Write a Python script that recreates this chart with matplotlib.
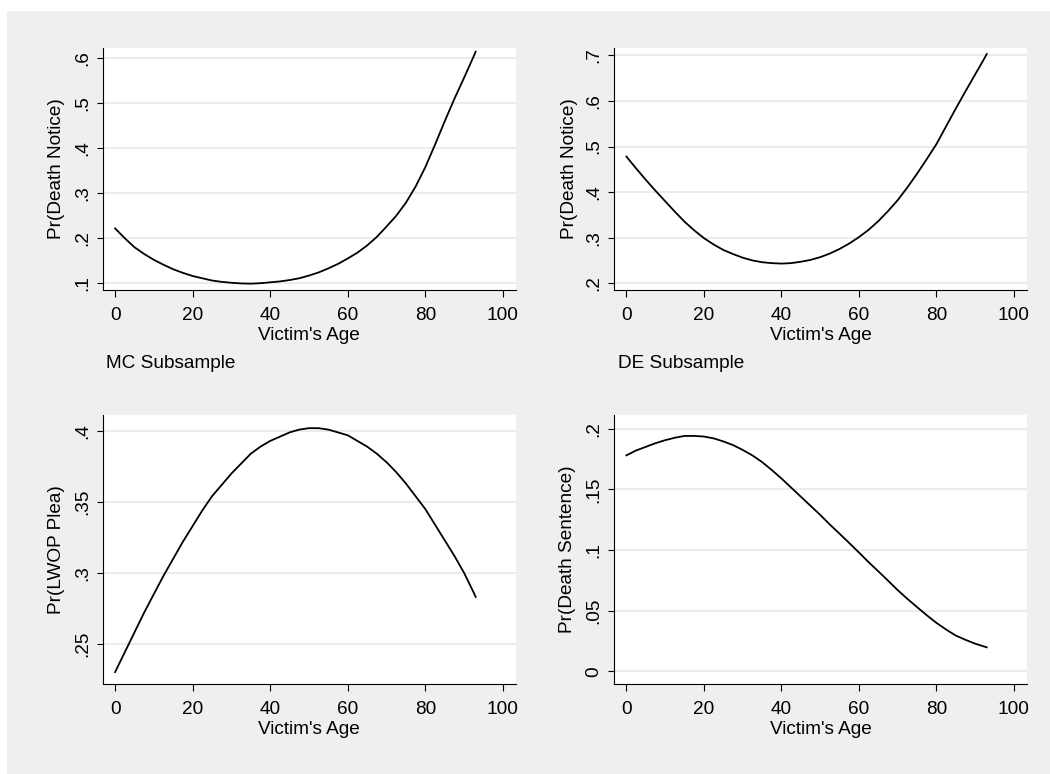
import matplotlib
matplotlib.use('Agg')
import matplotlib.pyplot as plt
from matplotlib.patches import Rectangle

plt.rcParams['font.family'] = ['Liberation Sans', 'DejaVu Sans']

# ---- data ----
ages = [0, 2.5, 5, 7.5, 10, 12.5, 15, 17.5, 20, 22.5, 25, 27.5, 30, 32.5, 35, 37.5, 40, 42.5, 45,
        47.5, 50, 52.5, 55, 57.5, 60, 62.5, 65, 67.5, 70, 72.5, 75, 77.5, 80, 82.5, 85, 87.5,
        90, 92.5, 93]
mc_death_notice = [0.222, 0.200, 0.180, 0.165, 0.152, 0.141, 0.131, 0.123, 0.116, 0.111,
                   0.106, 0.103, 0.101, 0.0995, 0.099, 0.100, 0.102, 0.104, 0.107, 0.111,
                   0.117, 0.124, 0.133, 0.143, 0.155, 0.168, 0.184, 0.203, 0.226, 0.250,
                   0.279, 0.315, 0.358, 0.408, 0.460, 0.510, 0.557, 0.605, 0.615]
de_death_notice = [0.478, 0.452, 0.427, 0.403, 0.380, 0.357, 0.335, 0.316, 0.299, 0.285,
                   0.273, 0.264, 0.256, 0.250, 0.246, 0.244, 0.243, 0.244, 0.247, 0.251,
                   0.257, 0.265, 0.275, 0.287, 0.301, 0.317, 0.336, 0.358, 0.382, 0.410,
                   0.440, 0.472, 0.505, 0.544, 0.583, 0.621, 0.658, 0.695, 0.703]
lwop_plea = [0.230, 0.244, 0.258, 0.272, 0.285, 0.298, 0.310, 0.322, 0.333, 0.344,
             0.354, 0.362, 0.370, 0.377, 0.384, 0.389, 0.393, 0.396, 0.399, 0.401,
             0.402, 0.402, 0.401, 0.399, 0.397, 0.393, 0.389, 0.384, 0.378, 0.371,
             0.363, 0.354, 0.345, 0.334, 0.323, 0.312, 0.300, 0.286, 0.283]
death_sentence = [0.178, 0.182, 0.185, 0.188, 0.1905, 0.1925, 0.194, 0.194, 0.1935, 0.192,
                  0.1895, 0.1865, 0.1825, 0.178, 0.1725, 0.166, 0.159, 0.1515, 0.144, 0.1365,
                  0.129, 0.121, 0.1135, 0.1058, 0.098, 0.090, 0.0825, 0.0748, 0.067, 0.0598,
                  0.053, 0.0463, 0.040, 0.0345, 0.0295, 0.026, 0.0228, 0.0203, 0.0198]

x_ticks = [0, 20, 40, 60, 80, 100]
x_tick_labels = ['0', '20', '40', '60', '80', '100']
x_label = "Victim's Age"

mc_yticks = [0.1, 0.2, 0.3, 0.4, 0.5, 0.6]
mc_ylabels = ['.1', '.2', '.3', '.4', '.5', '.6']
de_yticks = [0.2, 0.3, 0.4, 0.5, 0.6, 0.7]
de_ylabels = ['.2', '.3', '.4', '.5', '.6', '.7']
lwop_yticks = [0.25, 0.30, 0.35, 0.40]
lwop_ylabels = ['.25', '.3', '.35', '.4']
ds_yticks = [0.0, 0.05, 0.10, 0.15, 0.20]
ds_ylabels = ['0', '.05', '.1', '.15', '.2']

y_titles = ['Pr(Death Notice)', 'Pr(Death Notice)', 'Pr(LWOP Plea)', 'Pr(Death Sentence)']
notes = ['MC Subsample', 'DE Subsample', '', '']

# ---- layout ----
W, H = 1050, 774
FS = 13.7
fig = plt.figure(figsize=(W / 100, H / 100), dpi=100, facecolor='white')
fig.patches.append(Rectangle((7 / W, 0), 1 - 7 / W, 1 - 10.5 / H, transform=fig.transFigure,
                             facecolor='#efefef', edgecolor='none', zorder=-10))


def px_axes(l, t, r, b):
    return fig.add_axes([l / W, 1 - b / H, (r - l) / W, (b - t) / H])


panels = [
    ((102.7, 47.7, 516, 290), mc_death_notice, mc_yticks, mc_ylabels, (0.0849, 0.624), 56.7),
    ((614.0, 47.7, 1027, 290), de_death_notice, de_yticks, de_ylabels, (0.185, 0.717), 569.0),
    ((102.7, 414.7, 516, 683.7), lwop_plea, lwop_yticks, lwop_ylabels, (0.2218, 0.4115), 56.7),
    ((614.0, 414.7, 1027, 683.7), death_sentence, ds_yticks, ds_ylabels, (-0.0102, 0.2115), 568.0),
]

for i, (box, yvals, yt, yl, ylim, ylab_x) in enumerate(panels):
    l, t, r, b = box
    ax = px_axes(l, t, r, b)
    ax.set_facecolor('white')
    ax.plot(ages, yvals, color='black', linewidth=1.3, solid_joinstyle='round', zorder=3)
    ax.set_xlim(-3.2, 103.4)
    ax.set_ylim(*ylim)
    ax.set_xticks(x_ticks)
    ax.set_xticklabels(x_tick_labels, fontsize=FS)
    ax.set_yticks(yt)
    ax.set_yticklabels(yl, fontsize=FS, rotation=90, va='center')
    ax.grid(axis='y', color='#e6e6e6', linewidth=1.1, zorder=0)
    ax.set_axisbelow(True)
    for s in ['top', 'right']:
        ax.spines[s].set_visible(False)
    for s in ['left', 'bottom']:
        ax.spines[s].set_color('black')
        ax.spines[s].set_linewidth(0.8)
    ax.tick_params(axis='x', length=5, width=0.8, pad=7.5, colors='black')
    ax.tick_params(axis='y', length=4.5, width=0.8, pad=4, colors='black')
    ax.set_xlabel(x_label, fontsize=FS, labelpad=2)
    ax.set_ylabel(y_titles[i], fontsize=FS, va='center')
    ax.yaxis.set_label_coords((ylab_x - l) / (r - l), 0.5)
    if notes[i]:
        fig.text((l + 3.5) / W, 1 - 368 / H, notes[i], fontsize=FS, va='baseline', ha='left')

fig.savefig('out.png', dpi=100, facecolor=fig.get_facecolor())
